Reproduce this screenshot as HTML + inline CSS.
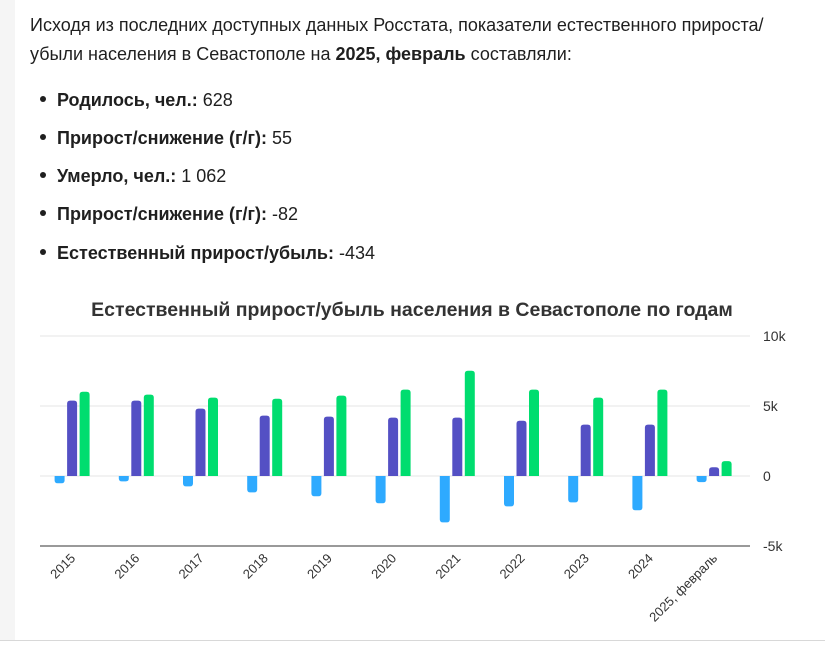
<!DOCTYPE html>
<html><head><meta charset="utf-8">
<style>
body{margin:0;width:825px;height:657px;background:#fff;font-family:"Liberation Sans",sans-serif;color:#1f1f1f;position:relative;overflow:hidden}
#strip{position:absolute;left:0;top:0;width:15px;height:640px;background:#f5f5f5}
#hr{position:absolute;left:0;top:640px;width:825px;height:1px;background:#d8d8d8}
.p{position:absolute;left:30px;font-size:18px;white-space:nowrap}
.li{position:absolute;left:40px;font-size:18px;white-space:nowrap}
.li:before{content:"";display:inline-block;width:6px;height:6px;border-radius:50%;background:#1f1f1f;margin-right:11px;vertical-align:middle;position:relative;top:-2px}
svg{position:absolute;left:0;top:0}
</style></head><body>
<div id="strip"></div>
<div id="hr"></div>
<div class="p" style="top:15px">Исходя из последних доступных данных Росстата, показатели естественного прироста/</div>
<div class="p" style="top:44px">убыли населения в Севастополе на <b>2025, февраль</b> составляли:</div>
<div class="li" style="top:90px"><b>Родилось, чел.:</b> 628</div>
<div class="li" style="top:128px"><b>Прирост/снижение (г/г):</b> 55</div>
<div class="li" style="top:166px"><b>Умерло, чел.:</b> 1 062</div>
<div class="li" style="top:204px"><b>Прирост/снижение (г/г):</b> -82</div>
<div class="li" style="top:243px"><b>Естественный прирост/убыль:</b> -434</div>
<svg id="chart" width="825" height="657">
<text x="412" y="316" text-anchor="middle" font-size="19.5" font-weight="bold" fill="#333">Естественный прирост/убыль населения в Севастополе по годам</text>
</svg>
<script>
const categories=["2015","2016","2017","2018","2019","2020","2021","2022","2023","2024","2025, февраль"];
const growth=[-520,-380,-740,-1170,-1450,-1950,-3310,-2170,-1880,-2450,-434];
const births=[5380,5380,4810,4310,4240,4170,4170,3950,3670,3670,628];
const deaths=[6020,5810,5600,5520,5740,6170,7520,6170,5600,6170,1062];
const ticks=[10000,5000,0,-5000];
const tickLabels=["10k","5k","0","-5k"];
const NS="http://www.w3.org/2000/svg";
const svg=document.getElementById('chart');
const x0=40,bw=64.2,y0=476,k=70/5000;
const xs=i=>x0+bw*(i+0.5);
const ys=v=>y0-v*k;
function mk(t,a){const e=document.createElementNS(NS,t);for(const n in a)e.setAttribute(n,a[n]);svg.appendChild(e);return e;}
ticks.forEach((t,i)=>{
 const l=mk('line',{x1:40,x2:750,y1:ys(t),y2:ys(t),stroke:t===-5000?'#333':'#e6e6e6','stroke-width':1});
 
 
 const tx=mk('text',{x:763,y:ys(t)+5,'font-size':14,fill:'#333'});
 tx.textContent=tickLabels[i];
 
 
});
function bar(cx,v,color){
 const w=10,r=3,top=Math.min(ys(v),y0),h=Math.abs(ys(v)-y0);
 const x=cx-w/2;let d;
 if(v>=0)d=`M${x},${y0}V${top+r}Q${x},${top} ${x+r},${top}H${x+w-r}Q${x+w},${top} ${x+w},${top+r}V${y0}Z`;
 else{const b=top+h;d=`M${x},${y0}V${b-r}Q${x},${b} ${x+r},${b}H${x+w-r}Q${x+w},${b} ${x+w},${b-r}V${y0}Z`;}
 return mk('path',{d:d,fill:color});
}
categories.forEach((c,i)=>{
 const cx=xs(i);
 const b1=bar(cx-12.5,growth[i],'#2eaaff');
 
 
 const b2=bar(cx,births[i],'#5450c4');
 
 
 const b3=bar(cx+12.5,deaths[i],'#00dd6f');
 
 
 const t=mk('text',{x:cx+4,y:559,'font-size':13,fill:'#333','text-anchor':'end',transform:`rotate(-45 ${cx+4} 559)`});
 t.textContent=c;
 
 
});
</script>
</body></html>
